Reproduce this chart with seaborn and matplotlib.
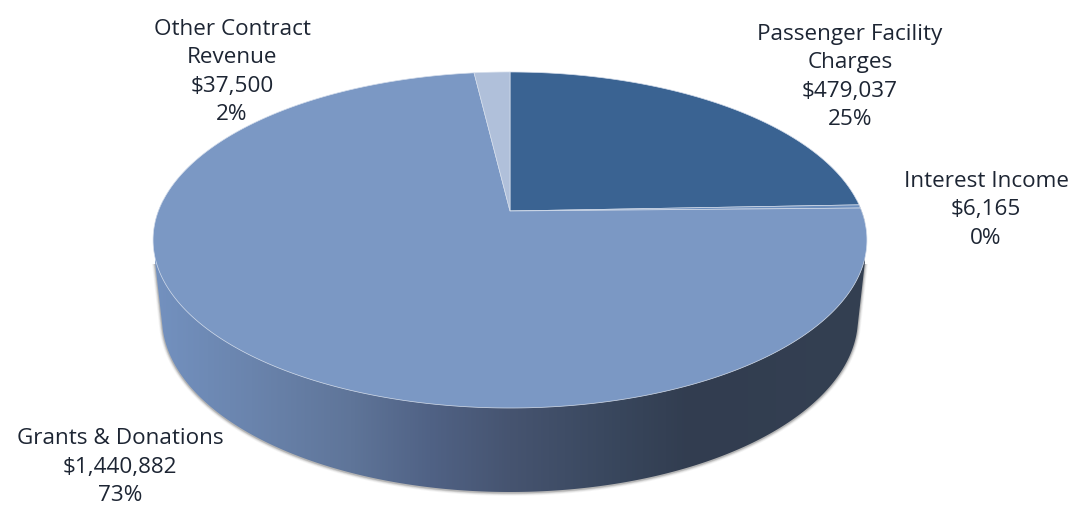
import numpy as np
import matplotlib
matplotlib.use("Agg")
import matplotlib.pyplot as plt
from matplotlib.colors import LinearSegmentedColormap
from matplotlib.patches import Polygon, Rectangle
import seaborn as sns

# Revenue sources, clockwise from twelve o'clock
sources = ["Passenger Facility\nCharges", "Interest Income", "Grants & Donations", "Other Contract\nRevenue"]
amounts = [479037, 6165, 1440882, 37500]
percent_labels = ["25%", "0%", "73%", "2%"]
label_x = [850, 986, 120, 232]
label_y = [77, 210, 467, 72]

slice_colors = ["#3a6392", "#6d8fbd", "#7b98c4", "#b0c0da"]
wall_stops = ["#7391bf", "#6a84ad", "#5f7599", "#506285", "#465470", "#38465c", "#323d50", "#344052"]
wall_stop_x = [155, 250, 350, 430, 510, 620, 690, 865]

sns.set_theme(style="white")
plt.rcParams["font.family"] = ["Open Sans", "DejaVu Sans"]

fig = plt.figure(figsize=(10.82, 5.09), dpi=100, facecolor="white")
ax = fig.add_axes([0, 0, 1, 1])
ax.set_axis_off()


def top_face(theta):
    """Perspective projection of a disc point, theta clockwise from the far edge."""
    w = 1 + 0.1726 * np.cos(theta)
    return np.column_stack((510 + 351.6 * np.sin(theta) / w, 211 - 163 * np.cos(theta) / w))


def convex_hull(points):
    pts = sorted(map(tuple, points))
    def half(seq):
        out = []
        for p in seq:
            while len(out) > 1 and (out[-1][0] - out[-2][0]) * (p[1] - out[-2][1]) - (out[-1][1] - out[-2][1]) * (p[0] - out[-2][0]) <= 0:
                out.pop()
            out.append(p)
        return out[:-1]
    return np.array(half(pts) + half(pts[::-1]))


ring = np.linspace(0, 2 * np.pi, 720)
top_ring = top_face(ring)
bottom_ring = np.column_stack((510 + 348 * np.cos(ring), 318 + 174 * np.sin(ring)))
body = convex_hull(np.vstack((top_ring, bottom_ring)))

# Soft shadow hugging the lower rim only
shadow_zone = Rectangle((0, 264), 1082, 245, transform=ax.transData, fc="none", ec="none")
ax.add_patch(shadow_zone)
for grow, alpha in [(3.2, 0.05), (2.4, 0.08), (1.6, 0.12), (0.9, 0.2)]:
    centre = np.array([510, 300])
    scale = 1 + grow / np.array([350, 190])
    halo = Polygon((body - centre) * scale + centre + [0, 0.6], closed=True,
                   fc="#404040", ec="none", alpha=alpha, zorder=1)
    ax.add_patch(halo)
    halo.set_clip_path(shadow_zone)

# Side wall with its left-to-right shading
positions = (np.array(wall_stop_x) - wall_stop_x[0]) / (wall_stop_x[-1] - wall_stop_x[0])
cmap = LinearSegmentedColormap.from_list("wall", list(zip(positions, wall_stops)))
img = ax.imshow(np.linspace(0, 1, 512)[None, :], cmap=cmap, aspect="auto", zorder=2,
                extent=(wall_stop_x[0], wall_stop_x[-1], 500, 200), interpolation="bilinear")
clip = Polygon(body, closed=True, transform=ax.transData, fc="none", ec="none")
ax.add_patch(clip)
img.set_clip_path(clip)

# Top face, one wedge per revenue source
shares = np.array(amounts) / np.sum(amounts)
edges = np.concatenate(([0], np.cumsum(shares))) * 2 * np.pi
hub = np.array([510, 211])
palette = sns.color_palette(slice_colors)
for start, end, colour in zip(edges[:-1], edges[1:], palette):
    arc = top_face(np.linspace(start, end, max(int((end - start) * 120), 4)))
    ax.fill(*np.vstack((hub, arc)).T, fc=colour, ec="#d5deec", lw=0.5, zorder=3, joinstyle="round")

# Data labels
for name, amount, pct, x, y in zip(sources, amounts, percent_labels, label_x, label_y):
    ax.text(x, y, f"{name}\n\\${amount:,}\n{pct}", ha="center", va="center", multialignment="center",
            fontsize=16.2, color="#1d2533", linespacing=1.47, zorder=4)

ax.set_xlim(0, 1082)
ax.set_ylim(509, 0)
fig.savefig("out.png", dpi=100, facecolor="white")
